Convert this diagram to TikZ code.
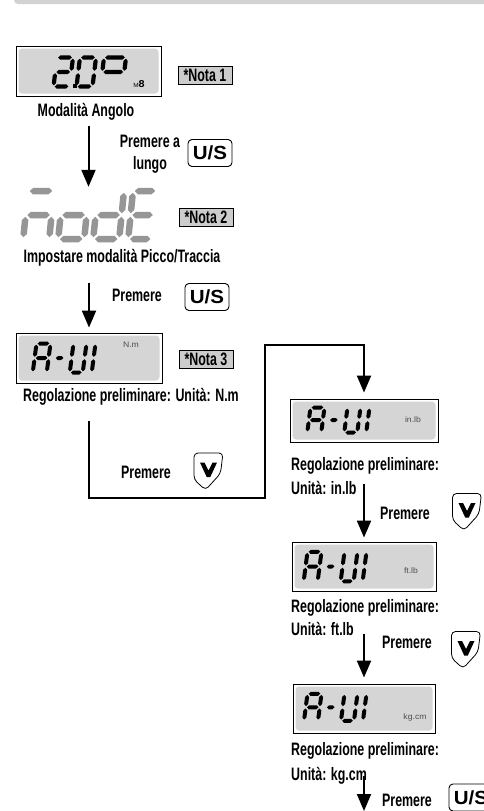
\documentclass[tikz,border=0pt]{standalone}
\usepackage{fontspec}
\setmainfont{Liberation Sans}[FakeStretch=0.69]
\newfontfamily\keyfont{Liberation Sans}[FakeStretch=1.08]
\usetikzlibrary{arrows.meta}

\definecolor{lcdgray}{RGB}{213,213,213}
\definecolor{notegray}{RGB}{204,204,204}
\definecolor{seggray}{RGB}{150,150,150}
\definecolor{bargray}{RGB}{210,210,210}

% pieces of a seven segment glyph (\sT = thickness)
\newcommand{\hseg}[3]{\fill ({#1},{#3}) -- ({#1+\sT/2},{#3-\sT/2}) -- ({#2-\sT/2},{#3-\sT/2}) -- ({#2},{#3}) -- ({#2-\sT/2},{#3+\sT/2}) -- ({#1+\sT/2},{#3+\sT/2}) -- cycle;}
\newcommand{\vseg}[3]{\fill ({#1},{#2}) -- ({#1+\sT/2},{#2+\sT/2}) -- ({#1+\sT/2},{#3-\sT/2}) -- ({#1},{#3}) -- ({#1-\sT/2},{#3-\sT/2}) -- ({#1-\sT/2},{#2+\sT/2}) -- cycle;}
\newcommand{\sga}{\hseg{\sG}{\sW-\sG}{0}}
\newcommand{\sgb}{\vseg{\sW}{\sG}{\sH/2-\sG}}
\newcommand{\sgc}{\vseg{\sW}{\sH/2+\sG}{\sH-\sG}}
\newcommand{\sgd}{\hseg{\sG}{\sW-\sG}{\sH}}
\newcommand{\sge}{\vseg{0}{\sH/2+\sG}{\sH-\sG}}
\newcommand{\sgf}{\vseg{0}{\sG}{\sH/2-\sG}}
\newcommand{\sgg}{\hseg{\sG}{\sW-\sG}{\sH/2}}
\newcommand{\seggap}{1.2}
% origin, width, height, thickness, slant, segments
\newcommand{\sevenseg}[6]{%
  \begin{scope}[shift={#1}, xslant=#5]
    \def\sW{#2}\def\sH{#3}\def\sT{#4}\let\sG\seggap
    \foreach \s in {#6}{\csname sg\s\endcsname}
  \end{scope}}
% the A-UI reading: left x, top y, height
\newcommand{\aui}[3]{%
  \sevenseg{({#1+5.5},#2)}{14}{#3}{4}{0.13}{a,b,c,e,f,g}
  \sevenseg{({#1+25.5},#2)}{10}{#3}{4}{0.13}{g}
  \sevenseg{({#1+42.5},#2)}{13}{#3}{4}{0.13}{b,c,d,e,f}
  \sevenseg{({#1+64.5},#2)}{13}{#3}{4}{0.13}{e,f}}
% the down key: name, position
\newcommand{\downkey}[2]{%
  \node[inner sep=0pt, minimum width=29pt, minimum height=37pt] (#1) at #2 {};
  \begin{scope}[shift={(#1.center)}]
    \draw[line width=0.8pt, rounded corners=4pt] (-14.5,-18.5) -- (14.5,-18.5) -- (12,2) -- (-3,18.5) -- (-14.5,8) -- cycle;
    \fill (-8.5,-9) -- (-4,-9) -- (0,-1) -- (4,-9) -- (8.5,-9) -- (1.8,5.5) -- (-1.8,5.5) -- cycle;
  \end{scope}}

\begin{document}
\begin{tikzpicture}[x=1pt, y=-1pt,
    lcd/.style={draw, line width=0.9pt, fill=white, inner sep=0pt,
      path picture={\fill[lcdgray, rounded corners=3.5pt]
        ([shift={(2.5pt,-2.5pt)}]path picture bounding box.north west) rectangle
        ([shift={(-2.5pt,2.5pt)}]path picture bounding box.south east);}},
    key/.style={draw, line width=0.9pt, rounded corners=4pt, minimum width=44pt,
      minimum height=27pt, inner sep=0pt, font=\keyfont\bfseries\fontsize{19}{19}\selectfont},
    note/.style={draw, line width=0.8pt, fill=notegray, inner xsep=2pt, inner ysep=0pt,
      minimum width=54pt, minimum height=18pt, font=\bfseries\fontsize{18}{18}\selectfont},
    lbl/.style={inner sep=0pt, font=\bfseries\fontsize{18}{22}\selectfont},
    unit/.style={inner sep=0pt, text=black!70, font=\keyfont\fontsize{8}{8}\selectfont},
    flow/.style={line width=2pt, -{Triangle[width=14pt,length=17pt]}}]

\useasboundingbox (0,0) rectangle (483,811);
\fill[bargray, rounded corners=4pt] (14,-6) rectangle (490,4);

% angle mode
\node[lcd, minimum width=145pt, minimum height=50pt] (angle) at (88.5,71) {};
\sevenseg{(57,57.5)}{16}{29}{4.2}{0.12}{a,b,g,e,d}
\fill (73,84) rectangle (77,88);
\sevenseg{(80,57.5)}{16}{29}{4.2}{0.12}{a,b,c,d,e,f}
\sevenseg{(104,57.5)}{22}{29}{4.2}{0.12}{a,b,f,g}
\node[inner sep=0pt, font=\keyfont] (angleunit) at (139,84) {{\fontsize{6}{6}\selectfont M}{\bfseries\fontsize{10}{10}\selectfont 8}};
\node[note] (nota1) at (205,75) {*Nota 1};
\node[lbl] (anglelbl) at (86,112) {Modalità Angolo};

% peak / track mode
\node[inner sep=0pt, minimum width=133pt, minimum height=53pt] (modeD) at (88.5,214.5) {};
\begin{scope}[seggray]
\renewcommand{\seggap}{1.8}
\sevenseg{(28,191)}{26}{48}{6.5}{0.1}{a,g,e,c}
\sevenseg{(63,191)}{26}{48}{6.5}{0.1}{g,c,d,e}
\sevenseg{(98,191)}{26}{48}{6.5}{0.1}{b,c,d,e,g}
\sevenseg{(133,191)}{24}{48}{6.5}{0.1}{a,d,e,f,g}
\end{scope}
\draw[flow, shorten <=5pt, shorten >=1pt] (anglelbl.south -| angle.south) -- (modeD.north);
\node[lbl, align=center] (longpress) at (150,154) {Premere a\\lungo};
\node[key] (us1) at (210,153) {U/S};
\node[note] (nota2) at (206,217.5) {*Nota 2};
\node[lbl] (modelbl) at (122,258) {Impostare modalità Picco/Traccia};

% unit N.m
\node[lcd, minimum width=146pt, minimum height=50pt] (nm) at (89,358) {};
\aui{31}{343.5}{29}
\node[unit] (nmunit) at (131,345) {N.m};
\node[note] (nota3) at (206,359) {*Nota 3};
\node[lbl] (nmlbl) at (131,397) {Regolazione preliminare: Unità: N.m};
\draw[flow, shorten <=16pt, shorten >=5pt] (modelbl.south -| nm.north) -- (nm.north);
\node[lbl] (press1) at (137,295) {Premere};
\node[key] (us2) at (207,297) {U/S};

% unit in.lb
\node[lcd, minimum width=148pt, minimum height=43pt] (inlb) at (364,420.5) {};
\aui{305}{407.5}{25}
\node[unit] (inlbunit) at (413,420) {in.lb};
\node[lbl, anchor=west] (prelinlb) at (291,465.5) {Regolazione preliminare:};
\node[lbl, anchor=west] (unitinlb) at (291,488) {Unità: in.lb};
\coordinate (bendA) at (265,498);
\coordinate (bendB) at (265,345);
\draw[flow, shorten <=15pt, shorten >=6pt] (nmlbl.south -| nm.south) |- (bendA) -- (bendB) -| (inlb.north);
\node[lbl] (press2) at (146,472) {Premere};
\downkey{down1}{(208.5,471.5)}

% unit ft.lb
\node[lcd, minimum width=144pt, minimum height=49pt] (ftlb) at (364,566.5) {};
\aui{302}{551.75}{29.5}
\node[unit] (ftlbunit) at (411,571) {ft.lb};
\node[lbl, anchor=west] (prelftlb) at (291,607.5) {Regolazione preliminare:};
\node[lbl, anchor=west] (unitftlb) at (291,628.5) {Unità: ft.lb};
\draw[flow, shorten <=3pt, shorten >=4pt] (unitinlb.north east -| inlb.south) -- (ftlb.north);
\node[lbl] (press3) at (405,513.5) {Premere};
\downkey{down2}{(467,512)}

% unit kg.cm
\node[lcd, minimum width=142pt, minimum height=49pt] (kgcm) at (364,708.5) {};
\aui{302}{693.75}{27}
\node[unit] (kgcmunit) at (415,717) {kg.cm};
\node[lbl, anchor=west] (prelkgcm) at (291,750.5) {Regolazione preliminare:};
\node[lbl, anchor=west] (unitkgcm) at (291,776) {Unità: kg.cm};
\draw[flow, shorten <=5pt, shorten >=6pt] (unitftlb.east -| ftlb.south) -- (kgcm.north);
\node[lbl] (press4) at (407,642.5) {Premere};
\downkey{down3}{(466,650)}

% next step
\coordinate (nextstep) at (364,811);
\draw[flow] (unitkgcm.east -| kgcm.south) -- (nextstep);
\node[lbl] (press5) at (407,800) {Premere};
\node[key] (us3) at (471,797.5) {U/S};
\end{tikzpicture}
\end{document}
